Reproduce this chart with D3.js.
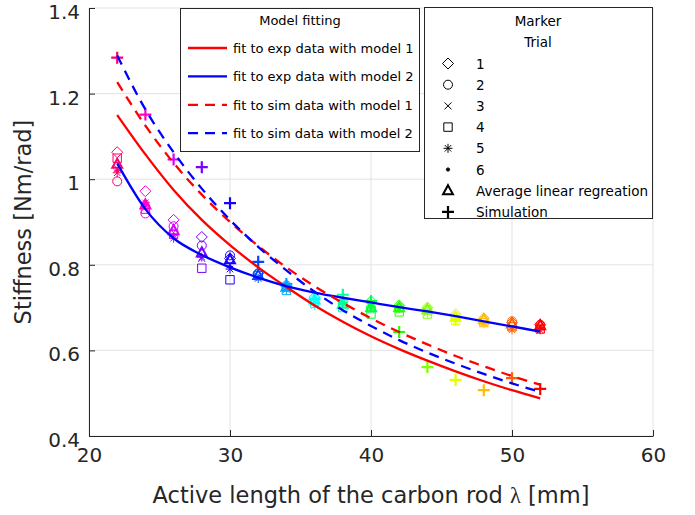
<!doctype html>
<html>
  <head>
    <meta charset="utf-8">
    <script src="https://cdn.jsdelivr.net/npm/d3@7"></script>
    <style>
      body { margin: 0; background: #fff; }
      text { font-family: "DejaVu Sans", sans-serif; }
    </style>
  </head>
  <body>
    <svg id="chart" width="695" height="515"></svg>

    <script>
      // active length of the rod [mm]
      var lengths = [22, 24, 26, 28, 30, 32, 34, 36, 38, 40, 42, 44, 46, 48, 50, 52];

      // measured stiffness per trial [Nm/rad]
      var trial1 = [1.063, 0.972, 0.905, 0.865, 0.815, 0.780, 0.750, 0.725, 0.715, 0.715, 0.705, 0.700, 0.685, 0.675, 0.665, 0.660];
      var trial2 = [0.995, 0.920, 0.890, 0.845, 0.822, 0.780, 0.752, 0.720, 0.710, 0.700, 0.700, 0.695, 0.680, 0.670, 0.668, 0.660];
      var trial3 = [1.025, 0.940, 0.875, 0.815, 0.800, 0.772, 0.745, 0.715, 0.705, 0.695, 0.695, 0.690, 0.675, 0.665, 0.655, 0.655];
      var trial4 = [1.049, 0.930, 0.872, 0.792, 0.765, 0.775, 0.740, 0.710, 0.700, 0.685, 0.690, 0.685, 0.670, 0.665, 0.655, 0.650];
      var trial5 = [1.015, 0.945, 0.862, 0.818, 0.790, 0.768, 0.742, 0.705, 0.712, 0.710, 0.698, 0.688, 0.668, 0.662, 0.648, 0.648];
      var trial6 = [1.020, 0.938, 0.870, 0.820, 0.795, 0.770, 0.745, 0.712, 0.708, 0.700, 0.698, 0.690, 0.674, 0.665, 0.655, 0.655];
      var avgLinReg = [1.035, 0.940, 0.880, 0.828, 0.812, 0.775, 0.748, 0.718, 0.708, 0.700, 0.700, 0.695, 0.678, 0.672, 0.662, 0.658];
      var simulation = [1.284, 1.151, 1.046, 1.028, 0.944, 0.807, 0.755, 0.720, 0.730, 0.715, 0.643, 0.561, 0.531, 0.507, 0.535, 0.510];

      // fitted curves read at the same lengths
      var fitExpModel1 = [1.150, 1.058, 0.975, 0.905, 0.846, 0.794, 0.748, 0.705, 0.667, 0.633, 0.603, 0.576, 0.551, 0.528, 0.507, 0.488];
      var fitExpModel2 = [1.037, 0.930, 0.862, 0.823, 0.794, 0.770, 0.750, 0.735, 0.723, 0.712, 0.701, 0.691, 0.680, 0.668, 0.656, 0.644];
      var fitSimModel1 = [1.227, 1.125, 1.038, 0.964, 0.900, 0.844, 0.794, 0.750, 0.711, 0.675, 0.643, 0.614, 0.587, 0.563, 0.540, 0.520];
      var fitSimModel2 = [1.289, 1.163, 1.063, 0.978, 0.905, 0.842, 0.787, 0.737, 0.694, 0.657, 0.624, 0.595, 0.569, 0.545, 0.523, 0.503];

      var xTicks = [20, 30, 40, 50, 60];
      var yTicks = [0.4, 0.6, 0.8, 1, 1.2, 1.4];

      var fitNames = ["fit to exp data with model 1", "fit to exp data with model 2",
                      "fit to sim data with model 1", "fit to sim data with model 2"];
      var markerNames = ["1", "2", "3", "4", "5", "6", "Average linear regreation", "Simulation"];

      var svg = d3.select("#chart");
      var x = d3.scaleLinear().domain([20, 60]).range([89, 653]);
      var y = d3.scaleLinear().domain([0.4, 1.4]).range([436, 8]);

      // one hue per length, pink -> red through the hsv wheel
      var hue = d3.scaleLinear().domain([22, 52]).range([335, 0]);
      function lenColor(l) { return d3.hsl(hue(l), 1, 0.5).toString(); }

      function markerPath(type, r) {
        var a = r * 0.72;
        if (type == "diamond") return "M0," + (-r) + "L" + r + ",0L0," + r + "L" + (-r) + ",0Z";
        if (type == "circle" || type == "dot") return "M" + r + ",0A" + r + "," + r + " 0 1,1 " + (-r) + ",0A" + r + "," + r + " 0 1,1 " + r + ",0Z";
        if (type == "x") return "M" + (-r) + "," + (-r) + "L" + r + "," + r + "M" + (-r) + "," + r + "L" + r + "," + (-r);
        if (type == "square") return "M" + (-r) + "," + (-r) + "H" + r + "V" + r + "H" + (-r) + "Z";
        if (type == "asterisk") return "M0," + (-r) + "V" + r + "M" + (-r) + ",0H" + r +
          "M" + (-a) + "," + (-a) + "L" + a + "," + a + "M" + (-a) + "," + a + "L" + a + "," + (-a);
        if (type == "triangle") return "M0," + (-r) + "L" + (r * 0.9) + "," + (r * 0.65) + "L" + (-r * 0.9) + "," + (r * 0.65) + "Z";
        if (type == "plus") return "M0," + (-r) + "V" + r + "M" + (-r) + ",0H" + r;
      }

      var markerStyles = [
        { type: "diamond", r: 5.5, w: 1 },
        { type: "circle", r: 4.5, w: 1 },
        { type: "x", r: 3.5, w: 1 },
        { type: "square", r: 4.2, w: 1 },
        { type: "asterisk", r: 4.5, w: 1 },
        { type: "dot", r: 1.6, w: 1, fill: true },
        { type: "triangle", r: 5.5, w: 2 },
        { type: "plus", r: 6, w: 2.2 }
      ];
      var markerSeries = [trial1, trial2, trial3, trial4, trial5, trial6, avgLinReg, simulation];

      // grid
      var grid = svg.append("g").attr("stroke", "#e3e3e3").attr("stroke-width", 1);
      grid.selectAll(".gx").data(xTicks).enter().append("line")
        .attr("x1", d => x(d)).attr("x2", d => x(d)).attr("y1", y(0.4)).attr("y2", y(1.4));
      grid.selectAll(".gy").data(yTicks).enter().append("line")
        .attr("x1", x(20)).attr("x2", x(60)).attr("y1", d => y(d)).attr("y2", d => y(d));

      // axes
      var xAxis = svg.append("g").attr("transform", "translate(0," + y(0.4) + ")")
        .call(d3.axisBottom(x).tickValues(xTicks).tickSizeInner(-6).tickSizeOuter(0).tickPadding(12));
      var yAxis = svg.append("g").attr("transform", "translate(" + x(20) + ",0)")
        .call(d3.axisLeft(y).tickValues(yTicks).tickFormat(d3.format("~g")).tickSizeInner(-6).tickSizeOuter(0).tickPadding(9));
      [xAxis, yAxis].forEach(function(ax) {
        ax.selectAll("path, line").attr("stroke", "#262626");
        ax.selectAll("text").attr("fill", "#262626").style("font-size", "20px")
          .style("font-family", "'DejaVu Sans', sans-serif");
      });
      yAxis.selectAll("text").attr("dy", "0.52em");

      svg.append("text")
        .attr("transform", "translate(31," + y(0.9) + ") rotate(-90)")
        .attr("text-anchor", "middle").attr("fill", "#262626").style("font-size", "22.5px")
        .text("Stiffness [Nm/rad]");

      var xl = svg.append("text")
        .attr("x", x(40)).attr("y", 503)
        .attr("text-anchor", "middle").attr("fill", "#262626").style("font-size", "22.5px");
      xl.append("tspan").text("Active length of the carbon rod ");
      xl.append("tspan").style("font-family", "'Liberation Serif', serif").text("λ");
      xl.append("tspan").text(" [mm]");

      // data markers
      var marks = svg.append("g");
      markerSeries.forEach(function(series, k) {
        var st = markerStyles[k];
        marks.append("g").selectAll("path").data(lengths).enter().append("path")
          .attr("transform", (d, i) => "translate(" + x(d) + "," + y(series[i]) + ")")
          .attr("d", markerPath(st.type, st.r))
          .attr("fill", d => st.fill ? lenColor(d) : "none")
          .attr("stroke", d => lenColor(d))
          .attr("stroke-width", st.w);
      });

      // fitted curves
      var fits = [
        { values: fitExpModel1, color: "#ff0000", dash: null },
        { values: fitExpModel2, color: "#0000ff", dash: null },
        { values: fitSimModel1, color: "#ff0000", dash: "10,7" },
        { values: fitSimModel2, color: "#0000ff", dash: "10,7" }
      ];
      var line = d3.line().curve(d3.curveMonotoneX);
      fits.forEach(function(f) {
        svg.append("path")
          .attr("d", line(lengths.map((l, i) => [x(l), y(f.values[i])])))
          .attr("fill", "none").attr("stroke", f.color).attr("stroke-width", 2.3)
          .attr("stroke-dasharray", f.dash);
      });

      // legend: model fitting
      var lg1 = svg.append("g");
      lg1.append("rect").attr("x", 180.5).attr("y", 8.5).attr("width", 239).attr("height", 143)
        .attr("fill", "#fff").attr("stroke", "#262626").attr("stroke-width", 1);
      lg1.append("text").attr("x", 300).attr("y", 25).attr("text-anchor", "middle")
        .style("font-size", "13px").text("Model fitting");
      fitNames.forEach(function(name, i) {
        var cy = 48 + i * 28.4;
        lg1.append("line").attr("x1", 188).attr("x2", 227).attr("y1", cy).attr("y2", cy)
          .attr("stroke", fits[i].color).attr("stroke-width", 2.3).attr("stroke-dasharray", fits[i].dash);
        lg1.append("text").attr("x", 233).attr("y", cy + 5).style("font-size", "13px").text(name);
      });

      // legend: markers
      var lg2 = svg.append("g");
      lg2.append("rect").attr("x", 424.5).attr("y", 7.5).attr("width", 228).attr("height", 211)
        .attr("fill", "#fff").attr("stroke", "#262626").attr("stroke-width", 1);
      lg2.append("text").attr("x", 538).attr("y", 26).attr("text-anchor", "middle")
        .style("font-size", "13.5px").text("Marker");
      lg2.append("text").attr("x", 538).attr("y", 47).attr("text-anchor", "middle")
        .style("font-size", "13.5px").text("Trial");
      markerNames.forEach(function(name, i) {
        var cy = 63.5 + i * 21.2;
        var st = markerStyles[i];
        lg2.append("path").attr("transform", "translate(448," + cy + ")")
          .attr("d", markerPath(st.type, st.r))
          .attr("fill", st.fill ? "#000" : "none").attr("stroke", "#000").attr("stroke-width", st.w);
        lg2.append("text").attr("x", 476).attr("y", cy + 5).style("font-size", "13.5px").text(name);
      });
    </script>
  </body>
</html>
